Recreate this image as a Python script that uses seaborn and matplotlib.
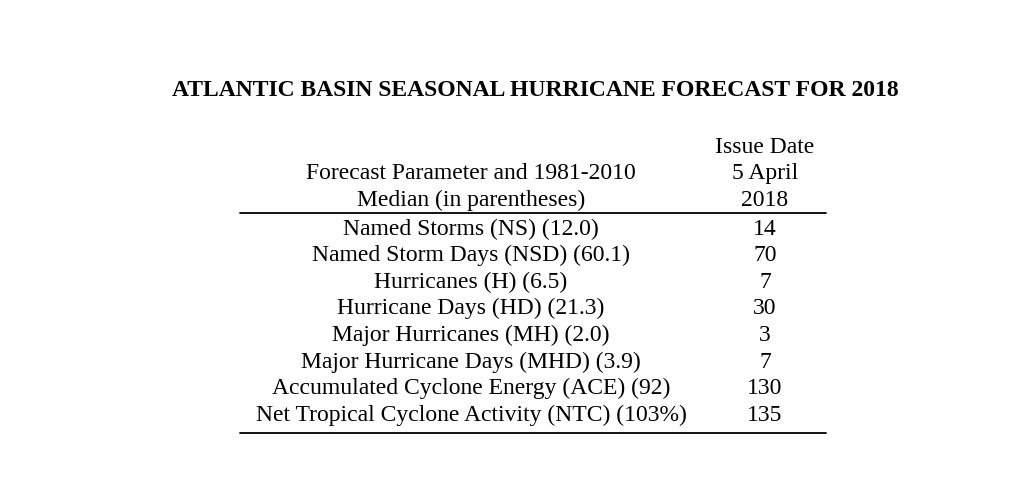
import matplotlib.pyplot as plt
import seaborn as sns

# table contents
title = "ATLANTIC BASIN SEASONAL HURRICANE FORECAST FOR 2018"
header_left = ["", "Forecast Parameter and 1981-2010", "Median (in parentheses)"]
header_right = ["Issue Date", "5 April", "2018"]
parameters = [
    "Named Storms (NS) (12.0)",
    "Named Storm Days (NSD) (60.1)",
    "Hurricanes (H) (6.5)",
    "Hurricane Days (HD) (21.3)",
    "Major Hurricanes (MH) (2.0)",
    "Major Hurricane Days (MHD) (3.9)",
    "Accumulated Cyclone Energy (ACE) (92)",
    "Net Tropical Cyclone Activity (NTC) (103%)",
]
forecast = ["14", "70", "7", "30", "3", "7", "130", "135"]

sns.set_theme(style="white")
plt.rcParams['font.family'] = ['Liberation Serif', 'DejaVu Serif']
plt.rcParams['text.color'] = 'black'

fig = plt.figure(figsize=(10.24, 4.94), dpi=100)
ax = fig.add_axes([0, 0, 1, 1])
ax.set_xlim(0, 1024)
ax.set_ylim(494, 0)
ax.axis("off")

x_left, x_right = 471, 765
fs = 17

ax.text(535, 90, title, ha="center", va="center", fontsize=17, fontweight="bold")

for i, (l, r) in enumerate(zip(header_left, header_right)):
    y = 147 + i * 26.5
    ax.text(x_left, y, l, ha="center", va="center", fontsize=fs)
    ax.text(x_right, y, r, ha="center", va="center", fontsize=fs)

ax.plot([240, 826], [212.5, 212.5], color="black", lw=1.3)

for i, (p, v) in enumerate(zip(parameters, forecast)):
    y = 229 + i * 26.6
    ax.text(x_left, y, p, ha="center", va="center", fontsize=fs)
    ax.text(x_right, y, v, ha="center", va="center", fontsize=fs)

ax.plot([240, 826], [433, 433], color="black", lw=1.3)

fig.savefig("out.png", dpi=100, facecolor="white")
